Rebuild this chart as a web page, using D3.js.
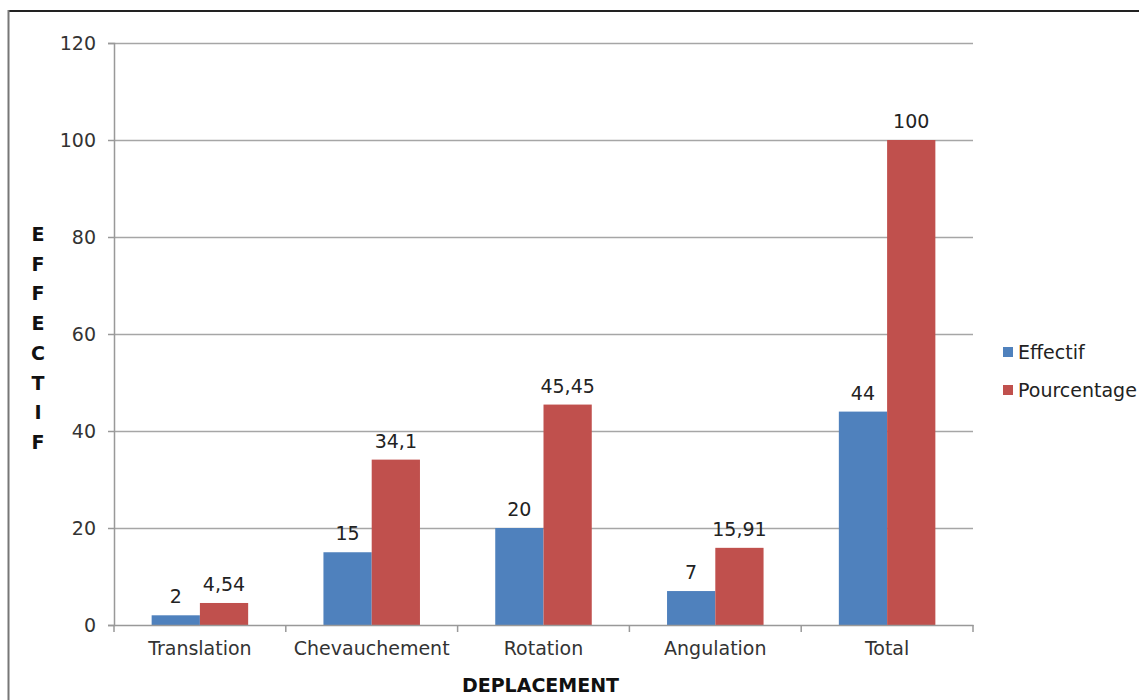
<!DOCTYPE html>
<html>
<head>
<meta charset="utf-8">
<script src="https://cdn.jsdelivr.net/npm/d3@7/dist/d3.min.js"></script>
<style>
  html, body { margin: 0; padding: 0; background: #fff; }
  svg { display: block; font-family: "DejaVu Sans", Verdana, sans-serif; }
</style>
</head>
<body>
<svg id="chart" width="1139" height="700"></svg>
<script>
// Déplacements : effectif et pourcentage par type
const categories = ["Translation", "Chevauchement", "Rotation", "Angulation", "Total"];
const effectif = [2, 15, 20, 7, 44];
const pourcentage = [4.54, 34.1, 45.45, 15.91, 100];
const effectifLabels = ["2", "15", "20", "7", "44"];
const pourcentageLabels = ["4,54", "34,1", "45,45", "15,91", "100"];
const yTicks = [0, 20, 40, 60, 80, 100, 120];
const seriesNames = ["Effectif", "Pourcentage"];
const colors = ["#4f81bd", "#c0504d"];

const svg = d3.select("#chart");
const margin = { left: 114, right: 166, top: 43, bottom: 75 };
const W = 1139, H = 700;

// outer frame
svg.append("line").attr("x1", 8).attr("x2", W).attr("y1", 11).attr("y2", 11)
  .attr("stroke", "#222").attr("stroke-width", 2);
svg.append("line").attr("x1", 8.5).attr("x2", 8.5).attr("y1", 10).attr("y2", H)
  .attr("stroke", "#777").attr("stroke-width", 2);

const x = d3.scaleBand().domain(categories)
  .range([margin.left, W - margin.right]).paddingInner(0).paddingOuter(0);
const x1 = d3.scaleBand().domain(seriesNames)
  .range([0, x.bandwidth()]).paddingOuter(0.78).paddingInner(0);
const y = d3.scaleLinear().domain([0, 120]).range([H - margin.bottom, margin.top]);

// horizontal gridlines
svg.append("g").selectAll("line").data(yTicks.filter(d => d > 0)).join("line")
  .attr("x1", margin.left).attr("x2", W - margin.right)
  .attr("y1", d => y(d) + 0.5).attr("y2", d => y(d) + 0.5)
  .attr("stroke", "#a6a6a6").attr("stroke-width", 1.5);

// y axis
const yAxis = svg.append("g").attr("transform", `translate(${margin.left},0)`)
  .call(d3.axisLeft(y).tickValues(yTicks).tickSize(6).tickPadding(12));
yAxis.select(".domain").attr("stroke", "#999").attr("stroke-width", 1.5);
yAxis.selectAll(".tick line").attr("stroke", "#999").attr("stroke-width", 1.5);
yAxis.selectAll(".tick text").attr("font-size", 19).attr("fill", "#333")
  .attr("font-family", "DejaVu Sans");

// bars
const groups = svg.append("g").selectAll("g").data(categories).join("g")
  .attr("transform", d => `translate(${x(d)},0)`);
const seriesData = [effectif, pourcentage];
const labelData = [effectifLabels, pourcentageLabels];
groups.each(function (cat, i) {
  const g = d3.select(this);
  seriesNames.forEach((s, j) => {
    const v = seriesData[j][i];
    g.append("rect")
      .attr("x", x1(s)).attr("width", x1.bandwidth())
      .attr("y", y(v)).attr("height", y(0) - y(v))
      .attr("fill", colors[j]);
    g.append("text")
      .attr("x", x1(s) + x1.bandwidth() / 2)
      .attr("y", y(v) - 12)
      .attr("text-anchor", "middle")
      .attr("font-size", 19).attr("fill", "#222")
      .text(labelData[j][i]);
  });
});

// x axis
const xAxis = svg.append("g").attr("transform", `translate(0,${y(0)})`)
  .call(d3.axisBottom(x).tickSize(0).tickPadding(17));
xAxis.select(".domain").attr("stroke", "#999").attr("stroke-width", 1.5);
xAxis.selectAll(".tick text").attr("font-size", 19).attr("fill", "#333")
  .attr("font-family", "DejaVu Sans");
// category separators
const seps = categories.map(c => x(c)).concat([x(categories[categories.length - 1]) + x.bandwidth()]);
svg.append("g").selectAll("line").data(seps).join("line")
  .attr("x1", d => d).attr("x2", d => d)
  .attr("y1", y(0)).attr("y2", y(0) + 7)
  .attr("stroke", "#999").attr("stroke-width", 1.5);

// axis titles
svg.append("text")
  .attr("x", (margin.left + W - margin.right) / 2 - 3).attr("y", 692)
  .attr("text-anchor", "middle").attr("font-size", 19).attr("font-weight", "bold")
  .attr("fill", "#111").text("DEPLACEMENT");

const yTitle = "EFFECTIF".split("");
svg.append("g").selectAll("text").data(yTitle).join("text")
  .attr("x", 38).attr("y", (d, i) => 241 + i * 29.7)
  .attr("text-anchor", "middle").attr("font-size", 19).attr("font-weight", "bold")
  .attr("fill", "#111").text(d => d);

// legend
const legend = svg.append("g").selectAll("g").data(seriesNames).join("g")
  .attr("transform", (d, i) => `translate(1003,${347 + i * 38})`);
legend.append("rect").attr("width", 10).attr("height", 10).attr("fill", (d, i) => colors[i]);
legend.append("text").attr("x", 15).attr("y", 12)
  .attr("font-size", 19).attr("fill", "#222").text(d => d);
</script>
</body>
</html>
